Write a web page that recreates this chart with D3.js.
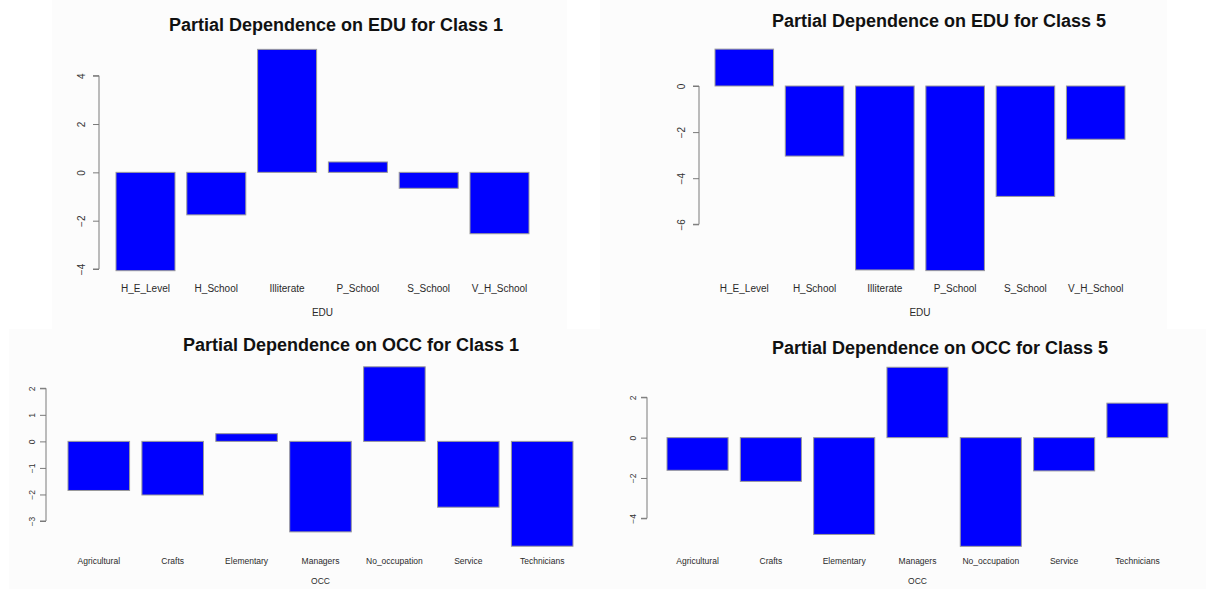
<!DOCTYPE html>
<html>
<head>
<meta charset="utf-8">
<script src="https://cdn.jsdelivr.net/npm/d3@7"></script>
<style>
  html, body { margin: 0; padding: 0; background: #ffffff; }
  svg { display: block; font-family: "Liberation Sans", Arial, sans-serif; }
</style>
</head>
<body>
<svg id="chart" width="1206" height="589"></svg>
<script>
// Partial dependence values for the EDU and OCC factor levels
const eduLevels = ["H_E_Level", "H_School", "Illiterate", "P_School", "S_School", "V_H_School"];
const eduClass1 = [-4.07, -1.76, 5.09, 0.43, -0.66, -2.54];
const eduClass5 = [1.6, -3.04, -7.98, -8.01, -4.79, -2.31];

const occLevels = ["Agricultural", "Crafts", "Elementary", "Managers", "No_occupation", "Service", "Technicians"];
const occClass1 = [-1.85, -2.02, 0.29, -3.41, 2.81, -2.48, -3.95];
const occClass5 = [-1.62, -2.17, -4.8, 3.49, -5.39, -1.65, 1.71];

const eduClass1Ticks = [-4, -2, 0, 2, 4];
const eduClass5Ticks = [-6, -4, -2, 0];
const occClass1Ticks = [-3, -2, -1, 0, 1, 2];
const occClass5Ticks = [-4, -2, 0, 2];

const svg = d3.select("#chart");

// Panel layout: background box, bar span, y mapping (first/last tick to pixel), text placement
const panels = [
  {
    title: "Partial Dependence on EDU for Class 1", xTitle: "EDU",
    cats: eduLevels, vals: eduClass1, ticks: eduClass1Ticks,
    bg: [52, 0, 567, 329], xRange: [116, 529], yDomain: [-4, 4], yRange: [269, 75.7],
    axisX: 99, tickOff: 14, titleX: 336, titleY: 30.5, titleSize: 18,
    catY: 292, catSize: 10, xTitleY: 316, xTitleSize: 10, tickSize: 10
  },
  {
    title: "Partial Dependence on EDU for Class 5", xTitle: "EDU",
    cats: eduLevels, vals: eduClass5, ticks: eduClass5Ticks,
    bg: [600, 0, 1167, 329], xRange: [715, 1125], yDomain: [-6, 0], yRange: [224.3, 86],
    axisX: 699, tickOff: 14, titleX: 939, titleY: 26.5, titleSize: 18,
    catY: 292, catSize: 10, xTitleY: 316, xTitleSize: 10, tickSize: 10
  },
  {
    title: "Partial Dependence on OCC for Class 1", xTitle: "OCC",
    cats: occLevels, vals: occClass1, ticks: occClass1Ticks,
    bg: [9, 329, 605, 589], xRange: [68, 573], yDomain: [-3, 2], yRange: [521, 388.3],
    axisX: 46, tickOff: 11, titleX: 351, titleY: 351, titleSize: 18,
    catY: 564, catSize: 8.5, xTitleY: 583.5, xTitleSize: 8.5, tickSize: 8.5
  },
  {
    title: "Partial Dependence on OCC for Class 5", xTitle: "OCC",
    cats: occLevels, vals: occClass5, ticks: occClass5Ticks,
    bg: [605, 329, 1206, 589], xRange: [667, 1168], yDomain: [-4, 2], yRange: [518.3, 397.3],
    axisX: 647, tickOff: 11, titleX: 940, titleY: 354, titleSize: 18,
    catY: 564, catSize: 8.5, xTitleY: 583.5, xTitleSize: 8.5, tickSize: 8.5
  }
];

panels.forEach(p => {
  const g = svg.append("g");

  g.append("rect")
    .attr("x", p.bg[0]).attr("y", p.bg[1])
    .attr("width", p.bg[2] - p.bg[0]).attr("height", p.bg[3] - p.bg[1])
    .attr("fill", "#fcfcfc");

  const x = d3.scaleBand().domain(p.cats).range(p.xRange)
    .paddingInner(1 / 6).paddingOuter(0);
  const y = d3.scaleLinear().domain(p.yDomain).range(p.yRange);

  // bars from zero to each value
  g.selectAll("rect.bar").data(p.cats.map((c, i) => ({ c, v: p.vals[i] })))
    .join("rect")
    .attr("class", "bar")
    .attr("x", d => x(d.c))
    .attr("width", x.bandwidth())
    .attr("y", d => Math.min(y(d.v), y(0)))
    .attr("height", d => Math.abs(y(d.v) - y(0)))
    .attr("fill", "#0000ff")
    .attr("stroke", "#9a9a9a")
    .attr("stroke-width", 1);

  // y axis, labels rotated parallel to the axis
  const axis = d3.axisLeft(y).tickValues(p.ticks).tickSize(6).tickPadding(0)
    .tickFormat(d3.format("d"));
  const ag = g.append("g").attr("transform", `translate(${p.axisX},0)`).call(axis);
  ag.select(".domain")
    .attr("d", `M-6,${y(p.ticks[0])}H0V${y(p.ticks[p.ticks.length - 1])}H-6`)
    .attr("stroke", "#7a7a7a").attr("fill", "none");
  ag.selectAll(".tick line").attr("stroke", "#7a7a7a");
  ag.selectAll(".tick text")
    .attr("x", null).attr("dy", null)
    .attr("transform", `translate(${-p.tickOff},0) rotate(-90)`)
    .attr("text-anchor", "middle")
    .attr("dominant-baseline", "auto")
    .attr("font-size", p.tickSize)
    .attr("fill", "#333");

  // category names
  g.selectAll("text.cat").data(p.cats).join("text")
    .attr("class", "cat")
    .attr("x", d => x(d) + x.bandwidth() / 2)
    .attr("y", p.catY)
    .attr("text-anchor", "middle")
    .attr("font-size", p.catSize)
    .attr("fill", "#2a2a2a")
    .text(d => d);

  g.append("text")
    .attr("x", (p.xRange[0] + p.xRange[1]) / 2)
    .attr("y", p.xTitleY)
    .attr("text-anchor", "middle")
    .attr("font-size", p.xTitleSize)
    .attr("fill", "#2a2a2a")
    .text(p.xTitle);

  g.append("text")
    .attr("x", p.titleX)
    .attr("y", p.titleY)
    .attr("text-anchor", "middle")
    .attr("font-size", p.titleSize)
    .attr("font-weight", "bold")
    .attr("fill", "#111")
    .text(p.title);
});
</script>
</body>
</html>
